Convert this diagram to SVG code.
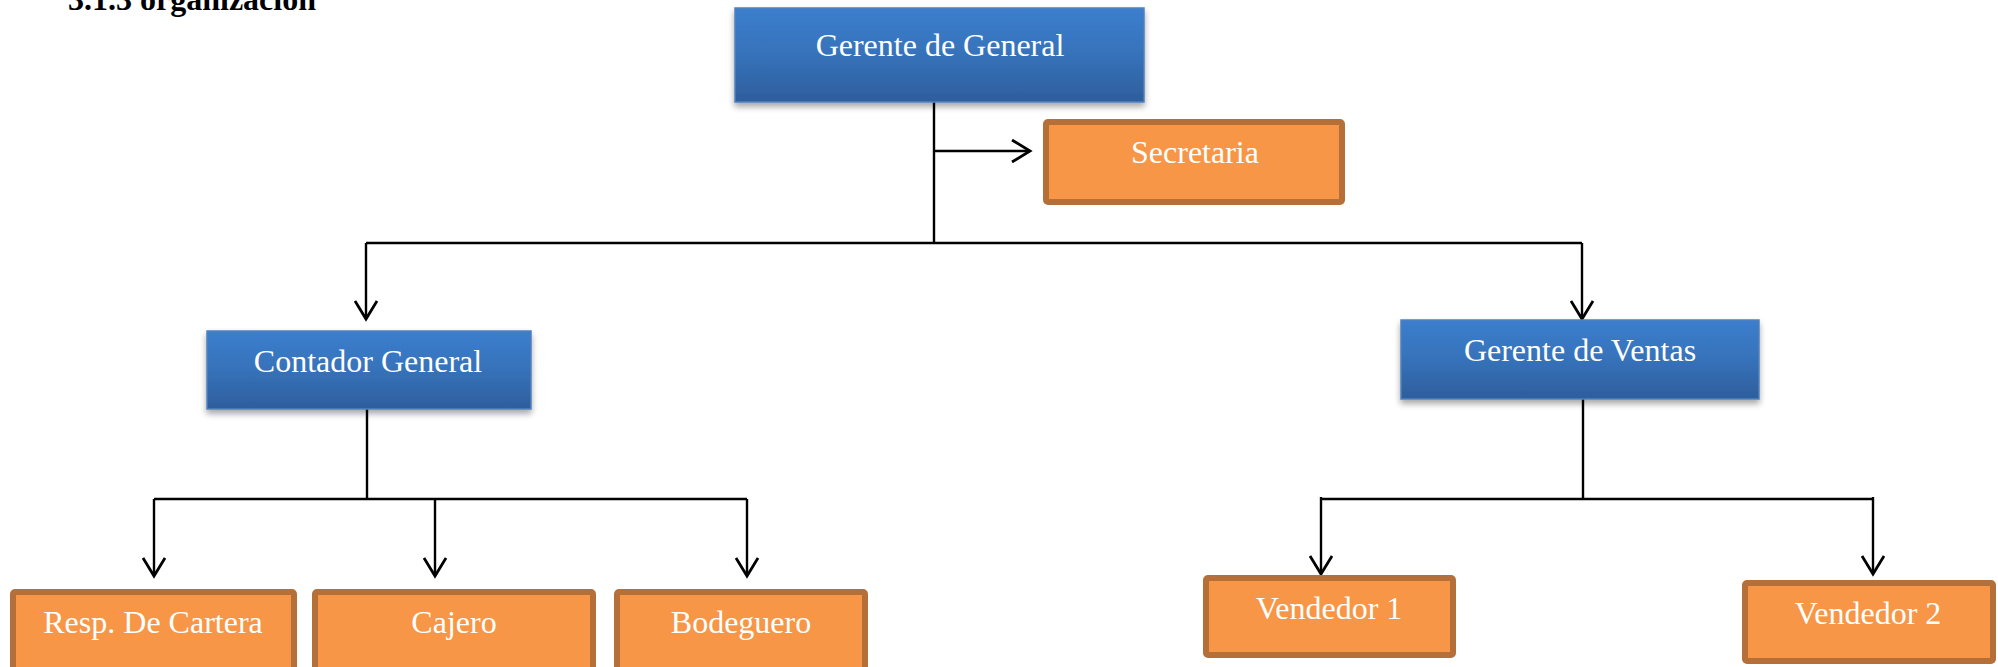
<svg xmlns="http://www.w3.org/2000/svg" width="1998" height="667" viewBox="0 0 1998 667">
<defs>
<linearGradient id="blueGrad" x1="0" y1="0" x2="0" y2="1">
<stop offset="0" stop-color="#3C7ECD"/>
<stop offset="0.5" stop-color="#3672BA"/>
<stop offset="1" stop-color="#2E5E9C"/>
</linearGradient>
<filter id="shadow" x="-10%" y="-10%" width="120%" height="130%">
<feDropShadow dx="0" dy="4" stdDeviation="3" flood-color="#000" flood-opacity="0.35"/>
</filter>
<marker id="arrow" viewBox="0 0 24 24" markerWidth="24" markerHeight="24" refX="20" refY="12" orient="auto" markerUnits="userSpaceOnUse">
<path d="M2,1 L20,12 L2,23" fill="none" stroke="#000" stroke-width="2.8"/>
</marker>
</defs>
<style>
.blue{fill:url(#blueGrad);stroke:#4F81BD;stroke-width:1.5;filter:url(#shadow)}
.orange{fill:#F79646;stroke:#B5703A;stroke-width:6}
.lbl{font-family:"Liberation Serif","Times New Roman",serif;font-size:32px;fill:#FFFFFF;text-anchor:middle}
.title{font-family:"Liberation Serif","Times New Roman",serif;font-size:32px;font-weight:bold;fill:#000}
.ln{fill:none;stroke:#000;stroke-width:2.4}
.arr{fill:none;stroke:#000;stroke-width:2.4;marker-end:url(#arrow)}
</style>
<rect x="0" y="0" width="1998" height="667" fill="#FFFFFF"/>
<text class="title" x="68" y="10">3.1.3 organización</text>

<g id="connectors">
<line class="ln" x1="934" y1="102" x2="934" y2="243"/>
<line class="arr" x1="934" y1="151" x2="1030" y2="151"/>
<line class="ln" x1="366" y1="243" x2="1582" y2="243"/>
<line class="arr" x1="366" y1="243" x2="366" y2="319"/>
<line class="arr" x1="1582" y1="243" x2="1582" y2="319"/>
<line class="ln" x1="367" y1="409" x2="367" y2="499"/>
<line class="ln" x1="154" y1="499" x2="747" y2="499"/>
<line class="arr" x1="154" y1="499" x2="154" y2="576"/>
<line class="arr" x1="435" y1="499" x2="435" y2="576"/>
<line class="arr" x1="747" y1="499" x2="747" y2="576"/>
<line class="ln" x1="1583" y1="399" x2="1583" y2="499"/>
<line class="ln" x1="1322" y1="499" x2="1873" y2="499"/>
<line class="arr" x1="1321" y1="497" x2="1321" y2="574"/>
<line class="arr" x1="1873" y1="497" x2="1873" y2="574"/>
</g>

<g id="gerente-general">
<rect class="blue" x="735" y="8" width="409" height="94"/>
<text class="lbl" x="940" y="56">Gerente de General</text>
</g>
<g id="secretaria">
<rect class="orange" x="1046" y="122" width="296" height="80" rx="2"/>
<text class="lbl" x="1195" y="163">Secretaria</text>
</g>
<g id="contador-general">
<rect class="blue" x="207" y="331" width="324" height="78"/>
<text class="lbl" x="368" y="372">Contador General</text>
</g>
<g id="gerente-ventas">
<rect class="blue" x="1401" y="320" width="358" height="79"/>
<text class="lbl" x="1580" y="361">Gerente de Ventas</text>
</g>
<g id="resp-cartera">
<rect class="orange" x="13" y="592" width="281" height="90" rx="2"/>
<text class="lbl" x="153" y="633">Resp. De Cartera</text>
</g>
<g id="cajero">
<rect class="orange" x="315" y="592" width="278" height="90" rx="2"/>
<text class="lbl" x="454" y="633">Cajero</text>
</g>
<g id="bodeguero">
<rect class="orange" x="617" y="592" width="248" height="90" rx="2"/>
<text class="lbl" x="741" y="633">Bodeguero</text>
</g>
<g id="vendedor-1">
<rect class="orange" x="1206" y="578" width="247" height="77" rx="2"/>
<text class="lbl" x="1329" y="619">Vendedor 1</text>
</g>
<g id="vendedor-2">
<rect class="orange" x="1745" y="583" width="248" height="78" rx="2"/>
<text class="lbl" x="1868" y="624">Vendedor 2</text>
</g>
</svg>
